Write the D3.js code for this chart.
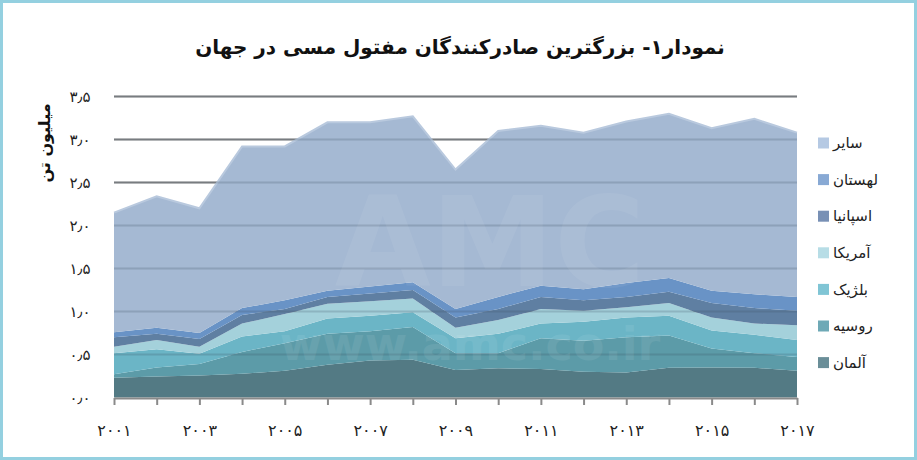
<!DOCTYPE html>
<html>
<head>
<meta charset="utf-8">
<script src="https://cdn.jsdelivr.net/npm/d3@7"></script>
<style>
  body { margin: 0; background: #fff; }
  text { font-family: "DejaVu Sans", sans-serif; }
</style>
</head>
<body>
<script>
var w = 917;
var h = 460;

// data, million tonnes
var years = [2001, 2002, 2003, 2004, 2005, 2006, 2007, 2008, 2009, 2010, 2011, 2012, 2013, 2014, 2015, 2016, 2017];
var germany = [0.23, 0.245, 0.255, 0.275, 0.31, 0.38, 0.43, 0.44, 0.32, 0.34, 0.33, 0.30, 0.29, 0.345, 0.35, 0.345, 0.31];
var russia  = [0.04, 0.105, 0.135, 0.255, 0.32, 0.36, 0.34, 0.38, 0.195, 0.175, 0.36, 0.36, 0.41, 0.375, 0.22, 0.17, 0.16];
var belgium = [0.245, 0.21, 0.12, 0.18, 0.14, 0.18, 0.18, 0.17, 0.175, 0.225, 0.17, 0.22, 0.23, 0.23, 0.21, 0.215, 0.20];
var america = [0.075, 0.11, 0.08, 0.15, 0.20, 0.17, 0.17, 0.16, 0.12, 0.16, 0.17, 0.13, 0.12, 0.15, 0.15, 0.13, 0.17];
var spain   = [0.11, 0.07, 0.09, 0.10, 0.06, 0.08, 0.09, 0.10, 0.12, 0.13, 0.14, 0.12, 0.12, 0.13, 0.17, 0.18, 0.17];
var poland  = [0.06, 0.07, 0.07, 0.08, 0.10, 0.07, 0.08, 0.09, 0.10, 0.14, 0.13, 0.13, 0.16, 0.16, 0.14, 0.16, 0.16];
var other   = [1.39, 1.53, 1.45, 1.88, 1.79, 1.96, 1.91, 1.93, 1.62, 1.93, 1.86, 1.82, 1.88, 1.91, 1.89, 2.04, 1.91];

var keys = ["germany", "russia", "belgium", "america", "spain", "poland", "other"];
var names = ["آلمان", "روسیه", "بلژیک", "آمریکا", "اسپانیا", "لهستان", "سایر"];
var areaColors = ["#537a84", "#5c9ba8", "#6bb5c6", "#a4d1db", "#5f7fa2", "#6993c6", "#a5b9d3"];
var legendColors = ["#6a8e98", "#6ea9b6", "#80c5d5", "#b7dde6", "#7890b5", "#88a9d4", "#b5c9e3"];
var yTicks = [0, 0.5, 1, 1.5, 2, 2.5, 3, 3.5];

var series = { germany: germany, russia: russia, belgium: belgium, america: america,
               spain: spain, poland: poland, other: other };
var table = years.map(function(y, i) {
  var row = { year: y };
  keys.forEach(function(k) { row[k] = series[k][i]; });
  return row;
});

var faDigits = "۰۱۲۳۴۵۶۷۸۹";
function fa(s) {
  return String(s).replace(/\d/g, function(d) { return faDigits[+d]; });
}

var svg = d3.select("body").append("svg")
            .attr("width", w)
            .attr("height", h);

svg.append("rect")
   .attr("width", w)
   .attr("height", h)
   .attr("fill", "#fff");

// frame
svg.append("rect")
   .attr("x", 1.5)
   .attr("y", 1.5)
   .attr("width", w - 3)
   .attr("height", h - 3)
   .attr("fill", "none")
   .attr("stroke", "#94d0e0")
   .attr("stroke-width", 3);

// title
svg.append("text")
   .attr("x", 460)
   .attr("y", 54)
   .attr("text-anchor", "middle")
   .attr("direction", "rtl")
   .attr("font-size", 20)
   .attr("font-weight", "bold")
   .attr("fill", "#111")
   .text("نمودار۱- بزرگترین صادرکنندگان مفتول مسی در جهان");

var x = d3.scaleLinear().domain([2001, 2017]).range([114, 797]);
var y = d3.scaleLinear().domain([0, 3.5]).range([397.5, 96.5]);

// grid behind the areas
svg.append("g")
   .selectAll("line")
   .data(yTicks.slice(1))
   .enter().append("line")
   .attr("x1", x(2001))
   .attr("x2", x(2017))
   .attr("y1", function(d) { return y(d); })
   .attr("y2", function(d) { return y(d); })
   .attr("stroke", "#8a8a8a")
   .attr("stroke-width", 2);

var stack = d3.stack().keys(keys);
var layers = stack(table);

var area = d3.area()
             .x(function(d) { return x(d.data.year); })
             .y0(function(d) { return y(d[0]); })
             .y1(function(d) { return y(d[1]); });

svg.append("g")
   .selectAll("path")
   .data(layers)
   .enter().append("path")
   .attr("d", area)
   .attr("fill", function(d, i) { return areaColors[i]; });

// soft top edge
svg.append("path")
   .datum(layers[layers.length - 1])
   .attr("d", d3.line()
                .x(function(d) { return x(d.data.year); })
                .y(function(d) { return y(d[1]); }))
   .attr("fill", "none")
   .attr("stroke", "#b9c9de")
   .attr("stroke-width", 2);

// grid seen through the areas
svg.append("g")
   .selectAll("line")
   .data(yTicks.slice(1))
   .enter().append("line")
   .attr("x1", x(2001))
   .attr("x2", x(2017))
   .attr("y1", function(d) { return y(d); })
   .attr("y2", function(d) { return y(d); })
   .attr("stroke", "#3c4c60")
   .attr("stroke-opacity", 0.22)
   .attr("stroke-width", 2);

// watermark
svg.append("text")
   .attr("x", 490)
   .attr("y", 286)
   .attr("text-anchor", "middle")
   .attr("font-size", 124)
   .attr("font-weight", "bold")
   .attr("fill", "#ffffff")
   .attr("opacity", 0.06)
   .text("AMC");
svg.append("text")
   .attr("x", 470)
   .attr("y", 360)
   .attr("text-anchor", "middle")
   .attr("font-size", 46)
   .attr("font-weight", "bold")
   .attr("fill", "#ffffff")
   .attr("opacity", 0.07)
   .text("www.amc.co.ir");

// x axis
var xAxis = d3.axisBottom(x)
              .tickValues(years)
              .tickSize(7)
              .tickSizeOuter(0)
              .tickFormat(function(d) { return d % 2 === 1 ? fa(d) : ""; });

var gx = svg.append("g")
            .attr("transform", "translate(0," + 398 + ")")
            .call(xAxis);
gx.select(".domain").attr("stroke", "#8a8a8a").attr("stroke-width", 2);
gx.selectAll(".tick line").attr("stroke", "#8a8a8a").attr("stroke-width", 2);
gx.selectAll(".tick text")
  .attr("y", 27)
  .attr("font-size", 16)
  .attr("fill", "#222")
  .attr("font-family", "DejaVu Sans, sans-serif");

// y labels
svg.append("g")
   .selectAll("text")
   .data(yTicks)
   .enter().append("text")
   .attr("x", 80)
   .attr("y", function(d) { return y(d); })
   .attr("dy", "0.35em")
   .attr("text-anchor", "middle")
   .attr("font-size", 15)
   .attr("fill", "#222")
   .text(function(d) { return fa(d3.format(".1f")(d)).replace(".", "٫"); });

// y title
svg.append("text")
   .attr("transform", "translate(50,143) rotate(-90)")
   .attr("text-anchor", "middle")
   .attr("direction", "rtl")
   .attr("font-size", 16)
   .attr("font-weight", "bold")
   .attr("fill", "#111")
   .text("میلیون تن");

// legend, top item is the top layer
var legend = svg.append("g")
                .selectAll("g")
                .data(keys.slice().reverse())
                .enter().append("g")
                .attr("transform", function(d, i) { return "translate(818," + (143 + i * 36.6) + ")"; });

legend.append("rect")
      .attr("x", 0)
      .attr("y", -5.5)
      .attr("width", 11)
      .attr("height", 11)
      .attr("fill", function(d) { return legendColors[keys.indexOf(d)]; });

legend.append("text")
      .attr("x", 15)
      .attr("y", 0)
      .attr("dy", "0.35em")
      .attr("font-size", 15)
      .attr("fill", "#222")
      .text(function(d) { return names[keys.indexOf(d)]; });
</script>
</body>
</html>
